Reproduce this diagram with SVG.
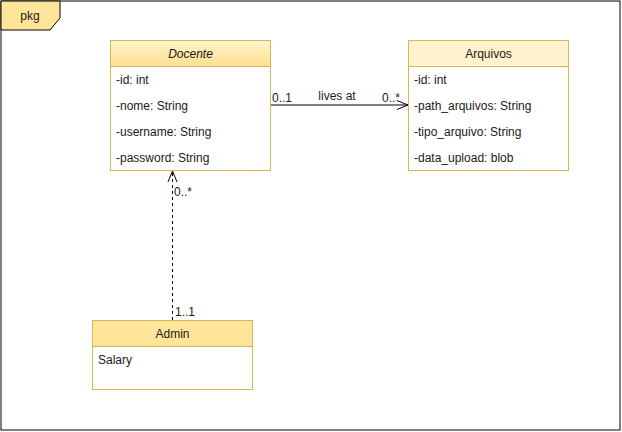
<svg xmlns="http://www.w3.org/2000/svg" width="622" height="432" viewBox="0 0 622 432">
<style>
text{font-family:"Liberation Sans",Arial,sans-serif;font-size:12px;fill:#1a1a1a}
.box{fill:#fff;stroke:#d6b656;stroke-width:1}
.mid{text-anchor:middle}
.edge{fill:none;stroke:#000;stroke-width:1}
</style>
<defs>
<linearGradient id="g1" x1="0" y1="0" x2="0" y2="1">
<stop offset="0" stop-color="#fff2cc"/>
<stop offset="1" stop-color="#ffe08f"/>
</linearGradient>
<marker id="open" viewBox="0 0 13 12" refX="12" refY="6" markerWidth="13" markerHeight="12" markerUnits="userSpaceOnUse" orient="auto">
<path d="M1,1.5 L12,6 L1,10.5" fill="none" stroke="#000" stroke-width="1"/>
</marker>
</defs>
<rect width="622" height="432" fill="#fff"/>
<g id="frame">
<rect x="1" y="1" width="619" height="429" fill="none" stroke="#000" stroke-width="1"/>
<path d="M1,1 L60,1 L60,18 L50,30 L1,30 Z" fill="#ffe599" stroke="#000" stroke-width="1"/>
<text x="30" y="20" class="mid">pkg</text>
</g>
<g id="connectors">
<line class="edge" x1="270" y1="105" x2="408" y2="105" marker-end="url(#open)"/>
<text x="272" y="102">0..1</text>
<text x="337" y="100" class="mid">lives at</text>
<text x="382" y="102">0..*</text>
<line class="edge" x1="172.5" y1="320" x2="172.5" y2="171" stroke-dasharray="3,3" marker-end="url(#open)"/>
<text x="174" y="196">0..*</text>
<text x="175" y="316">1..1</text>
</g>
<g id="docente">
<rect class="box" x="110.5" y="40.5" width="160" height="130"/>
<rect x="110.5" y="40.5" width="160" height="26" fill="url(#g1)" stroke="#d6b656"/>
<text x="190.5" y="58" class="mid" font-style="italic">Docente</text>
<text x="116" y="84">-id: int</text>
<text x="116" y="110">-nome: String</text>
<text x="116" y="136">-username: String</text>
<text x="116" y="162">-password: String</text>
</g>
<g id="arquivos">
<rect class="box" x="408.5" y="40.5" width="160" height="130"/>
<rect x="408.5" y="40.5" width="160" height="26" fill="#fff2cc" stroke="#d6b656"/>
<text x="488.5" y="58" class="mid">Arquivos</text>
<text x="414" y="84">-id: int</text>
<text x="414" y="110">-path_arquivos: String</text>
<text x="414" y="136">-tipo_arquivo: String</text>
<text x="414" y="162">-data_upload: blob</text>
</g>
<g id="admin">
<rect class="box" x="92.5" y="320.5" width="160" height="69"/>
<rect x="92.5" y="320.5" width="160" height="26" fill="#ffe599" stroke="#d6b656"/>
<text x="172.5" y="338" class="mid">Admin</text>
<text x="98" y="364">Salary</text>
</g>
</svg>
